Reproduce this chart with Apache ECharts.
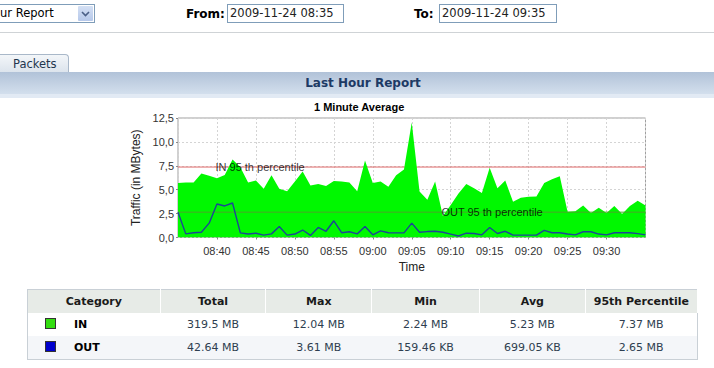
<!DOCTYPE html>
<html>
<head>
<meta charset="utf-8">
<script src="https://cdn.jsdelivr.net/npm/echarts@6/dist/echarts.min.js"></script>
<style>
  html, body { margin: 0; padding: 0; background: #fff; }
  body { width: 714px; height: 368px; overflow: hidden; position: relative; font-family: "DejaVu Sans", Verdana, sans-serif; font-size: 11px; color: #000; }
  .abs { position: absolute; }
  .select { left: -1px; top: 4px; width: 94px; height: 17px; border: 1px solid #7f9db9; border-left: none; background: #fff; font-size: 11.5px; line-height: 17px; padding-left: 1px; box-sizing: content-box; }
  .selbtn { position: absolute; right: 1px; top: 1px; width: 15px; height: 15px; background: linear-gradient(#d4e0f4, #b6c8ea); border-radius: 1px; }
  .lbl { font-weight: bold; font-size: 12px; top: 7px; }
  .inp { top: 4px; height: 17px; border: 1px solid #7f9db9; font-size: 11.5px; line-height: 17px; padding-left: 2px; color: #222; background: #fff; }
  .hr { left: 0; top: 32px; width: 714px; height: 1px; background: #cfd3d6; }
  .tab { left: -1px; top: 54px; width: 68px; height: 18px; border: 1px solid #a9b8c9; border-bottom: none; border-radius: 0 4px 0 0; background: linear-gradient(#f3f6f9, #dbe3ec); font-size: 11.5px; line-height: 18px; color: #23364f; }
  .bar { left: 0; top: 72px; width: 714px; height: 22px; background: linear-gradient(#b1c2d8, #d3dfed); font-weight: bold; font-size: 12px; line-height: 22px; color: #1d3a65; text-align: center; }
  .bar2 { left: 0; top: 94px; width: 714px; height: 4px; background: #e2eaf4; }
  #chart { position: absolute; left: 100px; top: 96px; width: 580px; height: 188px; }
  table { position: absolute; left: 27px; top: 289px; width: 671px; border-collapse: collapse; border: 1px solid #c9d0d6; font-size: 11px; }
  th { background: #e7ebe7; height: 23px; font-weight: bold; color: #1a1a1a; border-right: 1px solid #fff; padding: 0; font-size: 11px; }
  td { height: 23px; text-align: center; color: #2e3e50; padding: 0; }
  tr.r2 td { background: #f4f6f9; }
  td.cat { text-align: left; padding-left: 17px; font-weight: bold; color: #000; }
  .sw { display: inline-block; width: 9px; height: 9px; border: 1px solid #333; vertical-align: -1px; margin-right: 18px; }
</style>
</head>
<body>
<div class="abs select">ur Report<div class="selbtn"><svg width="15" height="15"><polyline points="4,6 7.5,9.5 11,6" fill="none" stroke="#4a5f86" stroke-width="1.6"/></svg></div></div>
<div class="abs lbl" style="left:186px">From:</div>
<div class="abs inp" style="left:227px;width:113px">2009-11-24 08:35</div>
<div class="abs lbl" style="left:414px">To:</div>
<div class="abs inp" style="left:439px;width:114px">2009-11-24 09:35</div>
<div class="abs hr"></div>
<div class="abs tab"><span style="padding-left:13px">Packets</span></div>
<div class="abs bar"><span style="padding-left:12px">Last Hour Report</span></div>
<div class="abs bar2"></div>
<div id="chart"></div>
<table id="stats">
  <thead><tr id="headRow"></tr></thead>
  <tbody id="statsBody"></tbody>
</table>
<script>
// ---- chart data ----
const times = ['08:35','08:36','08:37','08:38','08:39','08:40','08:41','08:42','08:43','08:44',
  '08:45','08:46','08:47','08:48','08:49','08:50','08:51','08:52','08:53','08:54',
  '08:55','08:56','08:57','08:58','08:59','09:00','09:01','09:02','09:03','09:04',
  '09:05','09:06','09:07','09:08','09:09','09:10','09:11','09:12','09:13','09:14',
  '09:15','09:16','09:17','09:18','09:19','09:20','09:21','09:22','09:23','09:24',
  '09:25','09:26','09:27','09:28','09:29','09:30','09:31','09:32','09:33','09:34','09:35'];
const inValues = [5.7,5.75,5.75,6.7,6.45,6.2,6.55,8.15,7.35,5.75,
  5.95,5.1,6.5,5.1,4.85,5.85,6.9,5.45,5.6,5.4,
  5.9,5.85,5.75,4.85,8.05,5.7,5.85,5.3,6.5,7.1,
  12.04,4.8,3.95,5.85,2.24,3.4,4.6,5.6,5.15,4.65,
  7.3,5.15,5.95,3.75,4.15,4.25,4.3,5.7,6.1,6.4,
  2.7,2.75,3.35,2.55,3.1,2.55,3.3,2.45,3.3,3.85,3.35];
const outValues = [2.65,0.38,0.5,0.55,1.5,3.5,3.3,3.61,0.48,0.36,
  0.45,0.25,0.38,1.15,0.25,0.36,0.78,0.22,1.05,0.65,
  1.75,0.5,0.6,0.38,1.15,0.28,0.7,0.5,0.48,0.48,
  1.5,0.55,0.62,0.65,0.55,0.36,0.16,0.45,0.42,0.28,
  1.05,0.42,0.65,0.25,0.25,0.25,0.25,0.75,0.5,0.5,
  0.36,0.28,0.6,0.6,0.36,0.28,0.5,0.5,0.5,0.4,0.28];
const yTickLabels = ['0,0','2,5','5,0','7,5','10,0','12,5'];
const percentileIn = 7.37;
const percentileOut = 2.65;
const inLabelText = 'IN 95 th percentile';
const outLabelText = 'OUT 95 th percentile';
const inLabelAt = '08:40';
const outLabelAt = '09:09';

// ---- table data ----
const tableHeaders = ['Category','Total','Max','Min','Avg','95th Percentile'];
const tableCategories = ['IN','OUT'];
const tableTotal = ['319.5 MB','42.64 MB'];
const tableMax = ['12.04 MB','3.61 MB'];
const tableMin = ['2.24 MB','159.46 KB'];
const tableAvg = ['5.23 MB','699.05 KB'];
const tableP95 = ['7.37 MB','2.65 MB'];
const tableSwatch = ['#33dd11','#0000cc'];
const colWidths = [133,106,106,108,106,112];

const head = document.getElementById('headRow');
tableHeaders.forEach((h, i) => {
  const th = document.createElement('th');
  th.textContent = h;
  th.style.width = colWidths[i] + 'px';
  head.appendChild(th);
});
const body = document.getElementById('statsBody');
tableCategories.forEach((c, r) => {
  const tr = document.createElement('tr');
  if (r === 1) tr.className = 'r2';
  const cells = [tableTotal[r], tableMax[r], tableMin[r], tableAvg[r], tableP95[r]];
  const td0 = document.createElement('td');
  td0.className = 'cat';
  const sw = document.createElement('span');
  sw.className = 'sw';
  sw.style.background = tableSwatch[r];
  td0.appendChild(sw);
  td0.appendChild(document.createTextNode(c));
  tr.appendChild(td0);
  cells.forEach(v => { const td = document.createElement('td'); td.textContent = v; tr.appendChild(td); });
  body.appendChild(tr);
});

// ---- chart ----
const chart = echarts.init(document.getElementById('chart'), null, { renderer: 'svg' });
const tickEvery5 = (index) => index % 5 === 0;
const font = 'Liberation Sans, Arial, sans-serif';
const firstT = times[0], lastT = times[times.length - 1];
chart.setOption({
  animation: false,
  backgroundColor: 'transparent',
  title: {
    text: '1 Minute Average', left: 214, top: 5, padding: 0,
    textStyle: { fontFamily: font, fontSize: 11, fontWeight: 'bold', color: '#000' }
  },
  grid: { left: 78, top: 22, width: 467.5, height: 119.5, containLabel: false, outerBoundsMode: 'none',
    show: true, borderColor: '#a0a0a0', borderWidth: 1, backgroundColor: '#fff' },
  xAxis: {
    type: 'category', data: times, boundaryGap: false,
    name: 'Time', nameLocation: 'middle', nameGap: 22,
    nameTextStyle: { fontFamily: font, fontSize: 12, color: '#222' },
    axisLine: { show: false },
    axisTick: { show: true, length: 2, interval: (i) => tickEvery5(i) && i > 0 && i < 60, lineStyle: { color: '#888' } },
    axisLabel: { interval: (i) => tickEvery5(i) && i > 0 && i < 60, fontFamily: font, fontSize: 11, color: '#333', margin: 8 },
    splitLine: { show: true, interval: (i) => tickEvery5(i), lineStyle: { color: '#d4d4d4', type: [2, 2] } }
  },
  yAxis: {
    type: 'value', min: 0, max: 12.5, interval: 2.5,
    name: 'Traffic (in MBytes)', nameLocation: 'middle', nameGap: 31,
    nameTextStyle: { fontFamily: font, fontSize: 12, color: '#222' },
    axisLine: { show: false },
    axisTick: { show: true, length: 2, lineStyle: { color: '#888' } },
    axisLabel: { fontFamily: font, fontSize: 11, color: '#333', margin: 4,
      formatter: (v) => yTickLabels[Math.round(v / 2.5)] },
    splitLine: { show: true, lineStyle: { color: '#d4d4d4', type: [2, 2] } }
  },
  series: [
    { name: 'IN 95th', type: 'line', z: 1, silent: true, symbol: 'none',
      data: [[firstT, percentileIn], [lastT, percentileIn]],
      lineStyle: { color: '#e06a6a', width: 1 }, itemStyle: { color: '#e06a6a' } },
    { name: 'IN', type: 'line', data: inValues, z: 2, symbol: 'none', silent: true,
      lineStyle: { width: 0 }, areaStyle: { color: '#00f800', opacity: 1 }, itemStyle: { color: '#00f800' } },
    { name: 'OUT 95th', type: 'line', z: 3, silent: true, symbol: 'none',
      data: [[firstT, percentileOut], [lastT, percentileOut]],
      lineStyle: { color: '#4aa628', width: 1 }, itemStyle: { color: '#4aa628' } },
    { name: 'OUT', type: 'line', data: outValues, z: 4, symbol: 'none', silent: true,
      lineStyle: { color: '#1c4597', width: 1.4 }, itemStyle: { color: '#1c4597' } },
    { type: 'scatter', z: 6, symbolSize: 1, itemStyle: { color: 'rgba(0,0,0,0)' }, silent: true,
      label: { show: true, position: 'right', distance: 0, offset: [-2, 0], fontFamily: font, fontSize: 11, color: '#000' },
      data: [
        { value: [inLabelAt, percentileIn], label: { formatter: inLabelText } },
        { value: [outLabelAt, percentileOut], label: { formatter: outLabelText } }
      ] }
  ]
});
</script>
</body>
</html>
